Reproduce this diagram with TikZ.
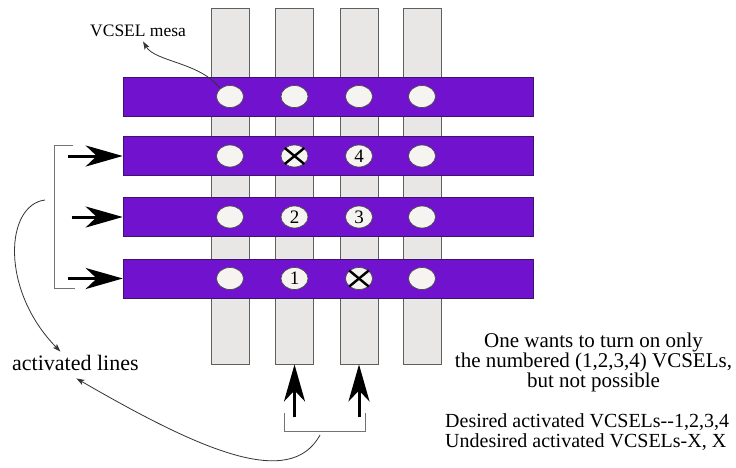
\documentclass[tikz,border=0pt]{standalone}
\usepackage{fontspec}
\setmainfont{Liberation Serif}
\usetikzlibrary{arrows.meta,shapes.geometric,calc}
\definecolor{rowviolet}{RGB}{112,18,206}
\definecolor{rowedge}{RGB}{60,20,110}
\definecolor{stripfill}{RGB}{233,231,229}
\definecolor{stripedge}{RGB}{95,95,95}
\definecolor{mesafill}{RGB}{246,244,241}
\tikzset{
  strip/.style={draw=stripedge, fill=stripfill, line width=0.9pt,
    minimum width=38pt, minimum height=356pt, inner sep=0pt},
  addrline/.style={draw=rowedge, fill=rowviolet, line width=0.6pt,
    minimum width=410pt, minimum height=39pt, inner sep=0pt},
  mesa/.style={ellipse, draw=black!70, fill=mesafill, line width=0.7pt,
    minimum width=27pt, minimum height=22pt, inner sep=0pt,
    font=\fontsize{19}{19}\selectfont},
  crossmark/.style={line width=2.4pt, black},
  drive/.style={line width=3pt, black,
    -{Stealth[length=37pt,width=21pt,inset=11pt]}},
  pointer/.style={line width=0.8pt, black!80,
    -{Stealth[length=8pt,width=5.5pt,inset=2pt]}},
  bracket/.style={line width=0.9pt, black!55},
  txt/.style={inner sep=0pt, font=\fontsize{21}{20}\selectfont},
}
\begin{document}
\begin{tikzpicture}[x=1pt,y=-1pt]
\fill[white] (0,0) rectangle (736,467);
\useasboundingbox (0,0) rectangle (736,467);

% column address strips (drawn first, under the row lines)
\foreach \i/\x in {1/230,2/294.5,3/359,4/422}
  \node[strip] (c\i) at (\x,186) {};

% row address lines
\foreach \j/\y in {1/96.5,2/156,3/217,4/278.5}
  \node[addrline] (r\j) at (328,\y) {};

% VCSEL mesas at the crossings
\foreach \j/\i in {1/1,1/2,1/3,1/4,2/1,2/2,2/4,3/1,3/4,4/1,4/3,4/4}
  \node[mesa] (m\j\i) at (c\i |- r\j) {};
\foreach \j/\i/\t in {2/3/4,3/2/2,3/3/3,4/2/1}
  \node[mesa] (m\j\i) at (c\i |- r\j) {\t};
\foreach \m in {m22,m43}{
  \draw[crossmark] (\m.north west) -- (\m.south east);
  \draw[crossmark] (\m.north east) -- (\m.south west);
}

% driven rows
\foreach \j/\d in {2/55,3/51,4/55}
  \draw[drive] ($(r\j.west)+(-\d,0)$) -- (r\j.west);
% driven columns
\foreach \i in {2,3}
  \draw[drive] ($(c\i.south)+(0,53)$) -- (c\i.south);

% brackets grouping the driven lines
\coordinate (lbt) at (73,145);
\coordinate (lbb) at (75,288);
\draw[bracket] (lbt) -| ($(lbb)+(-21,0)$) -- (lbb);
\coordinate (bbl) at (284,413);
\coordinate (bbr) at (365,413);
\draw[bracket] (bbl) |- ($(bbr)+(0,18)$) -- (bbr);

% labels
\node[txt, anchor=base west, font=\fontsize{17.5}{17}\selectfont] (vm) at (90,36) {VCSEL mesa};
\node[txt, anchor=base west, font=\fontsize{22}{20}\selectfont] (al) at (12,370) {activated lines};
\node[txt, anchor=base, align=center] (note) at (593.5,387)
  {One wants to turn on only\\the numbered (1,2,3,4) VCSELs,\\but not possible};
\node[txt, anchor=base west, align=left, font=\fontsize{20}{20}\selectfont] (legend) at (445,447)
  {Desired activated VCSELs-{}-1,2,3,4\\Undesired activated VCSELs-X, X};

% pointers
\draw[pointer] (m11.north west) .. controls (200,62) and (155,62) .. ([xshift=5pt,yshift=-5pt]vm.south);
\coordinate (lbtail) at (45,200);
\draw[pointer] (lbtail) .. controls (5,205) and (0,290) .. ([xshift=-15pt,yshift=3pt]al.north);
\coordinate (bbtail) at (320,435);
\draw[pointer] (bbtail) .. controls (290,490) and (200,450) .. ([xshift=1pt,yshift=-8pt]al.south);
\end{tikzpicture}
\end{document}
